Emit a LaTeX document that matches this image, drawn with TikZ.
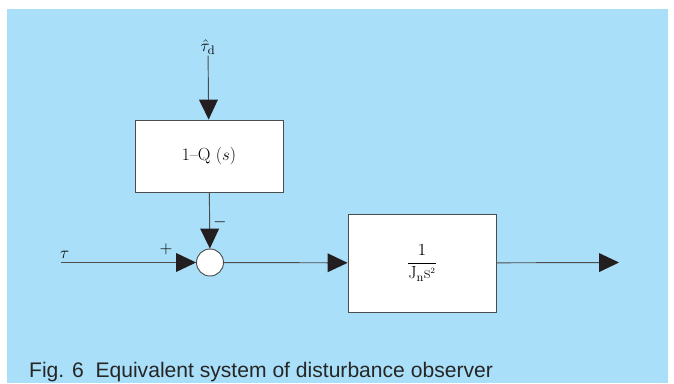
\documentclass[tikz,border=0pt]{standalone}
\usepackage{amsmath}
\usepackage{fontspec}
\newfontfamily\capfont{Liberation Sans}
\usetikzlibrary{arrows.meta}
\definecolor{bgblue}{HTML}{A9DFF8}
\definecolor{linegray}{HTML}{4D4D4D}
\definecolor{tipblack}{HTML}{231F20}

\begin{document}
\begin{tikzpicture}[x=0.03cm, y=-0.03cm, font=\fontsize{15}{18}\selectfont,
    blk/.style={draw=linegray, fill=white, line width=0.8pt, inner sep=0pt, minimum width=4.44cm},
    sig/.style={draw=linegray, line width=0.8pt, -{Triangle[length=17pt, width=16pt, color=tipblack]}}]
  \useasboundingbox (0,0) rectangle (674,383);
  \fill[bgblue] (7,9) rectangle (668,383);
  % blocks
  \node[blk, minimum height=2.16cm] (filt)  at (209,156) {1–Q ($s$)};
  \node[blk, minimum height=2.94cm] (plant) at (422,263) {$\dfrac{1}{\mathrm{J}_{\mathrm{n}}\mathrm{s}^{\scriptscriptstyle 2}}$};
  \node[draw=linegray, fill=white, line width=0.8pt, circle, minimum size=0.81cm, inner sep=0pt] (sum) at (210,262.5) {};
  % signals
  \node[inner sep=1pt] (dist) at (208,47) {$\hat{\tau}_{\mathrm{d}}$};
  \coordinate (in)  at (61,262.5);
  \coordinate (out) at (619,262.5);
  \node[anchor=south west, inner sep=0pt] (taulbl) at (60,259) {$\tau$};
  \node (plus)  at (166,249) {$+$};
  \node (minus) at (220,222) {$-$};
  \draw[sig] (dist) -- (filt);
  \draw[sig] (filt) -- (sum);
  \draw[sig] (in) -- (sum);
  \draw[sig] (sum) -- (plant);
  \draw[sig] (plant) -- (out);
  \node[anchor=base west, font=\capfont\fontsize{18}{21}\selectfont, text=black!85] (cap) at (25,377) {Fig. 6\ \ Equivalent system of disturbance observer};
\end{tikzpicture}
\end{document}
